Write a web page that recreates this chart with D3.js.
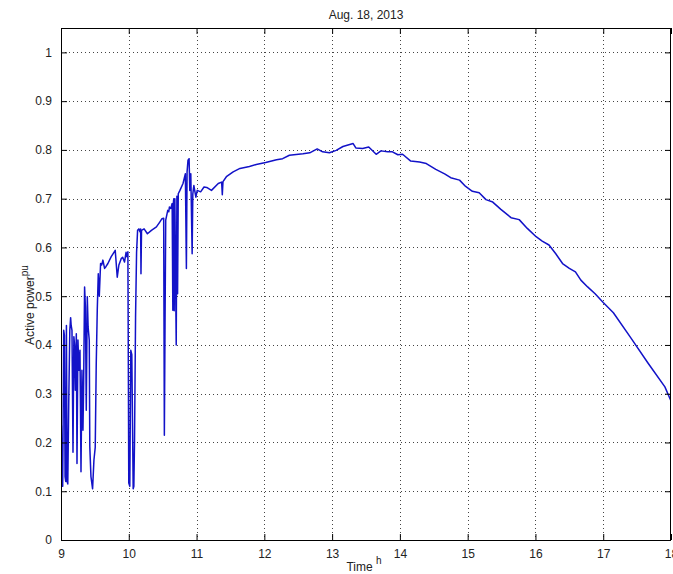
<!DOCTYPE html>
<html>
<head>
<meta charset="utf-8">
<script src="https://cdn.jsdelivr.net/npm/d3@7"></script>
<style>
  html, body { margin: 0; padding: 0; background: #fff; }
  svg { display: block; }
  text { font-family: "Liberation Sans", Arial, sans-serif; }
</style>
</head>
<body>
<svg id="chart" width="673" height="574"></svg>
<script>
const title = "Aug. 18, 2013";
const xTicks = [9, 10, 11, 12, 13, 14, 15, 16, 17, 18];
const yTicks = [0, 0.1, 0.2, 0.3, 0.4, 0.5, 0.6, 0.7, 0.8, 0.9, 1];
const yTickLabels = ["0", "0.1", "0.2", "0.3", "0.4", "0.5", "0.6", "0.7", "0.8", "0.9", "1"];

const time = [
  9.005, 9.015, 9.025, 9.04, 9.05, 9.06, 9.07, 9.08, 9.09, 9.10,
  9.115, 9.13, 9.142, 9.15, 9.162, 9.177, 9.19, 9.20, 9.211, 9.226,
  9.236, 9.25, 9.265, 9.28, 9.295, 9.309, 9.324, 9.334, 9.348, 9.36,
  9.373, 9.388, 9.40, 9.417, 9.425, 9.442, 9.466, 9.486, 9.505, 9.52,
  9.535, 9.55, 9.565, 9.584, 9.60, 9.618, 9.643, 9.66, 9.692, 9.741,
  9.80, 9.83, 9.854, 9.888, 9.91, 9.937, 9.96, 9.972, 9.987, 9.993,
  10.000, 10.015, 10.03, 10.045, 10.065, 10.075, 10.085, 10.10, 10.115, 10.13,
  10.149, 10.165, 10.175, 10.18, 10.188, 10.226, 10.275, 10.334, 10.408, 10.457,
  10.49, 10.515, 10.525, 10.535, 10.545, 10.575, 10.59, 10.60, 10.62, 10.64,
  10.65, 10.66, 10.665, 10.67, 10.68, 10.70, 10.71, 10.72, 10.73, 10.755,
  10.80, 10.835, 10.85, 10.86, 10.874, 10.89, 10.90, 10.915, 10.935, 10.945,
  10.96, 10.99, 11.01, 11.06, 11.11, 11.15, 11.22, 11.32, 11.37, 11.38,
  11.39, 11.44, 11.54, 11.64, 11.78, 11.88, 12.02, 12.18, 12.27, 12.37,
  12.57, 12.67, 12.78, 12.86, 12.96, 13.06, 13.16, 13.31, 13.35, 13.45,
  13.54, 13.65, 13.72, 13.82, 13.89, 13.97, 14.04, 14.16, 14.29, 14.39,
  14.53, 14.66, 14.75, 14.88, 14.97, 15.07, 15.17, 15.27, 15.37, 15.49,
  15.64, 15.76, 15.88, 16.01, 16.10, 16.20, 16.30, 16.40, 16.50, 16.59,
  16.67, 16.77, 16.88, 17.00, 17.15, 17.40, 17.66, 17.91, 18.00
];
const power = [
  0.235, 0.12, 0.11, 0.43, 0.42, 0.13, 0.12, 0.44, 0.12, 0.115,
  0.29, 0.43, 0.456, 0.44, 0.43, 0.18, 0.417, 0.40, 0.307, 0.423,
  0.157, 0.41, 0.348, 0.389, 0.14, 0.348, 0.225, 0.321, 0.519, 0.478,
  0.266, 0.499, 0.437, 0.41, 0.191, 0.13, 0.105, 0.164, 0.19, 0.362,
  0.471, 0.546, 0.50, 0.567, 0.564, 0.574, 0.557, 0.56, 0.567, 0.581,
  0.594, 0.539, 0.564, 0.577, 0.58, 0.570, 0.59, 0.581, 0.591, 0.376,
  0.117, 0.11, 0.389, 0.38, 0.105, 0.11, 0.205, 0.457, 0.59, 0.635,
  0.638, 0.632, 0.638, 0.546, 0.635, 0.638, 0.628, 0.635, 0.642, 0.652,
  0.659, 0.66, 0.215, 0.444, 0.656, 0.676, 0.673, 0.683, 0.68, 0.69,
  0.471, 0.695, 0.70, 0.47, 0.70, 0.40, 0.705, 0.505, 0.71, 0.717,
  0.731, 0.751, 0.557, 0.755, 0.779, 0.782, 0.717, 0.751, 0.587, 0.71,
  0.727, 0.703, 0.717, 0.714, 0.724, 0.723, 0.717, 0.731, 0.734, 0.708,
  0.735, 0.745, 0.755, 0.762, 0.766, 0.770, 0.774, 0.780, 0.782, 0.789,
  0.792, 0.794, 0.802, 0.796, 0.794, 0.799, 0.807, 0.813, 0.804, 0.803,
  0.806, 0.791, 0.798, 0.796, 0.796, 0.790, 0.791, 0.777, 0.775, 0.772,
  0.760, 0.751, 0.743, 0.738, 0.725, 0.715, 0.712, 0.698, 0.693, 0.678,
  0.661, 0.657, 0.639, 0.622, 0.613, 0.605, 0.587, 0.567, 0.557, 0.550,
  0.533, 0.519, 0.505, 0.487, 0.466, 0.416, 0.363, 0.314, 0.285
];

const margin = { left: 61, right: 2, top: 28, bottom: 34 };
const W = 673, H = 574;
const px0 = margin.left, px1 = W - margin.right, py0 = margin.top, py1 = H - margin.bottom;

const xs = d3.scaleLinear().domain([9, 18]).range([px0, px1]);
const ys = d3.scaleLinear().domain([0, 1.05]).range([py1, py0]);

const svg = d3.select("#chart");

// grid
const grid = svg.append("g").attr("stroke", "#444").attr("stroke-width", 1)
  .attr("stroke-dasharray", "1,3").attr("shape-rendering", "crispEdges");
xTicks.slice(1, -1).forEach(t => {
  grid.append("line").attr("x1", Math.round(xs(t)) + 0.5).attr("x2", Math.round(xs(t)) + 0.5)
    .attr("y1", py0).attr("y2", py1);
});
yTicks.slice(1).forEach(t => {
  grid.append("line").attr("y1", Math.round(ys(t)) + 0.5).attr("y2", Math.round(ys(t)) + 0.5)
    .attr("x1", px0).attr("x2", px1);
});

// data line
svg.append("clipPath").attr("id", "clip").append("rect")
  .attr("x", px0).attr("y", py0).attr("width", px1 - px0).attr("height", py1 - py0);
const pts = time.map((t, i) => [t, power[i]]);
svg.append("path").datum(pts)
  .attr("clip-path", "url(#clip)")
  .attr("fill", "none").attr("stroke", "#1212c8").attr("stroke-width", 1.5)
  .attr("stroke-linejoin", "round")
  .attr("d", d3.line().x(d => xs(d[0])).y(d => ys(d[1])));

// axes (MATLAB-style inward ticks)
const tickLen = 6;
const axBottom = svg.append("g").attr("transform", `translate(0,${py1})`)
  .call(d3.axisBottom(xs).tickValues(xTicks).tickSize(-tickLen).tickPadding(9).tickFormat(d3.format("d")));
const axTop = svg.append("g").attr("transform", `translate(0,${py0})`)
  .call(d3.axisTop(xs).tickValues(xTicks).tickSize(-tickLen).tickFormat(""));
const axLeft = svg.append("g").attr("transform", `translate(${px0},0)`)
  .call(d3.axisLeft(ys).tickValues(yTicks).tickSize(-tickLen).tickPadding(9)
    .tickFormat((d, i) => yTickLabels[i]));
const axRight = svg.append("g").attr("transform", `translate(${px1},0)`)
  .call(d3.axisRight(ys).tickValues(yTicks).tickSize(-tickLen).tickFormat(""));

[axBottom, axTop, axLeft, axRight].forEach(g => {
  g.select(".domain").remove();
  g.selectAll(".tick line").attr("stroke", "#000");
  g.selectAll("text").attr("fill", "#222").attr("font-size", 12)
    .attr("font-family", "'Liberation Sans', Arial, sans-serif");
});

// frame
svg.append("rect").attr("x", px0 + 0.5).attr("y", py0 + 0.5)
  .attr("width", px1 - px0 - 1).attr("height", py1 - py0)
  .attr("fill", "none").attr("stroke", "#000").attr("stroke-width", 1)
  .attr("shape-rendering", "crispEdges");

// title
svg.append("text").attr("x", (px0 + px1) / 2).attr("y", 19)
  .attr("text-anchor", "middle").attr("font-size", 12).attr("fill", "#222").text(title);

// x label
const xl = svg.append("text").attr("x", 364).attr("y", 571)
  .attr("text-anchor", "middle").attr("font-size", 12).attr("fill", "#222");
xl.append("tspan").text("Time ");
xl.append("tspan").attr("dy", -7).attr("font-size", 10).text("h");

// y label
const yl = svg.append("text").attr("transform", "translate(34,305) rotate(-90)")
  .attr("text-anchor", "middle").attr("font-size", 12).attr("fill", "#222");
yl.append("tspan").text("Active power");
yl.append("tspan").attr("dy", -6).attr("font-size", 10).text("pu");
</script>
</body>
</html>
